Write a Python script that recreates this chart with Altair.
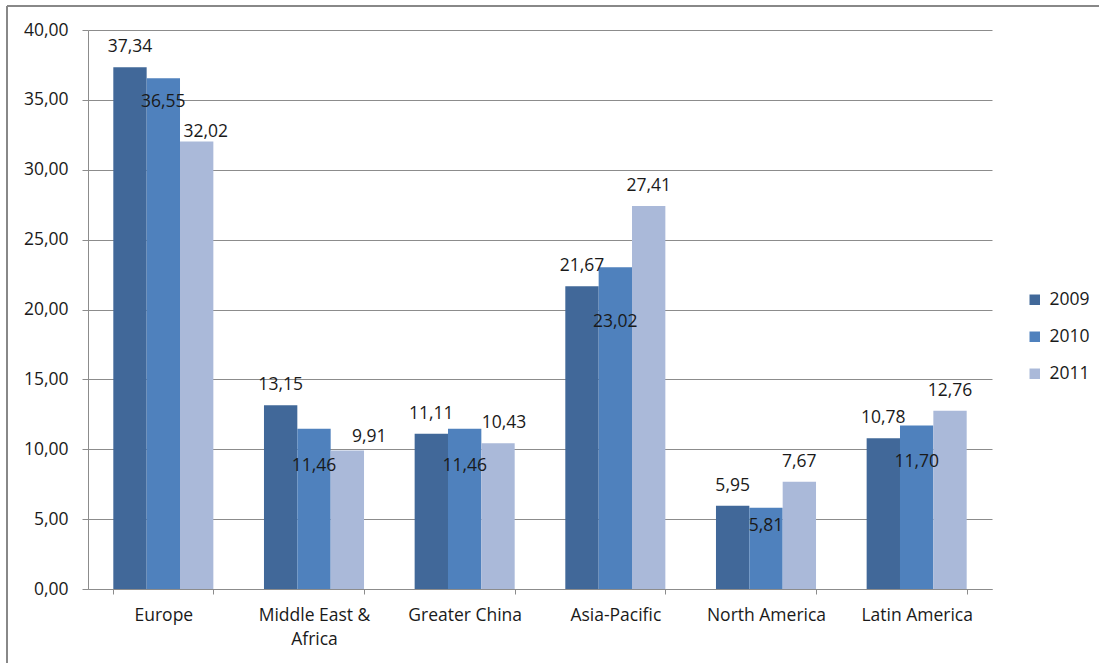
import altair as alt
import pandas as pd

# Regions and yearly values
regions = ["Europe", "Middle East & Africa", "Greater China",
           "Asia-Pacific", "North America", "Latin America"]
years = ["2009", "2010", "2011"]
v2009 = [37.34, 13.15, 11.11, 21.67, 5.95, 10.78]
v2010 = [36.55, 11.46, 11.46, 23.02, 5.81, 11.70]
v2011 = [32.02, 9.91, 10.43, 27.41, 7.67, 12.76]

colors = ["#416899", "#4F81BD", "#AAB9D9"]
FONT = "Open Sans"
FS = 17.5
GRID = "#8C8C8C"
TEXT = "#1a1a1a"

rows = []
for year, vals in zip(years, [v2009, v2010, v2011]):
    for region, v in zip(regions, vals):
        rows.append({"region": region, "year": year, "value": v})
df = pd.DataFrame(rows)

# Label placement: (dx, dy of baseline from the bar top), default sits above the bar
default_nudge = (0, -15)
nudges = {
    ("Europe", "2011"): (9, -5),
    ("Middle East & Africa", "2011"): (22, -9),
    ("Greater China", "2011"): (6, -15),
    ("Europe", "2010"): (0, 29),
    ("Middle East & Africa", "2010"): (0, 42),
    ("Greater China", "2010"): (0, 42),
    ("Asia-Pacific", "2010"): (0, 60),
    ("North America", "2010"): (0, 23),
    ("Latin America", "2010"): (0, 42),
}

x_enc = alt.X(
    "region:N", sort=regions, title=None,
    scale=alt.Scale(paddingInner=0.336, paddingOuter=0.168),
    axis=alt.Axis(
        labelAngle=0, tickBand="extent", tickSize=5, tickColor=GRID,
        domainColor=GRID, labelPadding=12, labelLineHeight=24,
        labelFont=FONT, labelFontSize=FS, labelColor=TEXT,
        labelExpr="datum.value == 'Middle East & Africa' ? ['Middle East &', 'Africa'] : datum.value",
    ),
)
xo_enc = alt.XOffset("year:N", sort=years,
                     scale=alt.Scale(paddingInner=0, paddingOuter=0))
y_enc = alt.Y(
    "value:Q", title=None,
    scale=alt.Scale(domain=[0, 40], nice=False),
    axis=alt.Axis(
        values=list(range(0, 41, 5)), grid=True, gridColor=GRID,
        domainColor=GRID, tickColor=GRID, tickSize=6, labelPadding=14,
        labelFont=FONT, labelFontSize=FS, labelColor=TEXT,
        labelExpr="replace(format(datum.value, '.2f'), '.', ',')",
    ),
)

base = alt.Chart(df).encode(x=x_enc, xOffset=xo_enc, y=y_enc)

bars = base.mark_bar().encode(
    color=alt.Color(
        "year:N", sort=years,
        scale=alt.Scale(domain=years, range=colors),
        legend=alt.Legend(
            title=None, orient="none", legendX=938, legendY=261,
            symbolType="square", symbolSize=110, symbolStrokeWidth=0,
            labelFont=FONT, labelFontSize=FS, labelColor=TEXT,
            labelOffset=6, rowPadding=18, padding=0,
        ),
    )
)

# Group labels by their nudge so each group gets its own text layer
groups = {}
for region in regions:
    for year in years:
        groups.setdefault(nudges.get((region, year), default_nudge), []).append((region, year))

label_layers = []
for (dx, dy), members in groups.items():
    cond = " || ".join(
        f"(datum.region == '{r}' && datum.year == '{y}')" for r, y in members
    )
    label_layers.append(
        base.transform_filter(cond)
        .transform_calculate(label="replace(format(datum.value, '.2f'), '.', ',')")
        .mark_text(font=FONT, fontSize=FS, color=TEXT,
                   baseline="alphabetic", align="center", dx=dx, dy=dy)
        .encode(text="label:N")
    )

# Outer frame (top and left edges of the chart border)
frame_src = alt.Chart(pd.DataFrame({"k": [0]}))
frame_top = frame_src.mark_rule(color="#888888", strokeWidth=2).encode(
    x=alt.value(-81), x2=alt.value(1030), y=alt.value(-24))
frame_left = frame_src.mark_rule(color="#888888", strokeWidth=2).encode(
    x=alt.value(-81), y=alt.value(-24), y2=alt.value(650))

chart = alt.layer(bars, *label_layers, frame_top, frame_left).properties(
    width=904, height=559,
    autosize=alt.AutoSizeParams(type="none"),
    padding={"left": 88, "top": 30, "right": 107, "bottom": 74},
    background="white",
).configure_view(stroke=None)

chart.save("out.html", embed_options={"renderer": "svg", "actions": False})
